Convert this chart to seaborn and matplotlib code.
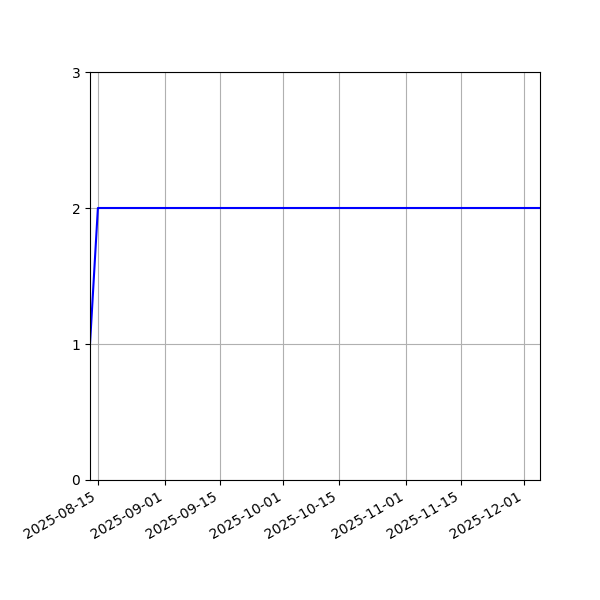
import matplotlib
matplotlib.use("Agg")
import matplotlib.pyplot as plt
import matplotlib.dates as mdates
import pandas as pd
import seaborn as sns

dates = pd.to_datetime(["2025-08-13", "2025-08-15", "2025-12-05"])
counts = [1, 2, 2]

df = pd.DataFrame({"date": dates, "count": counts})

fig, ax = plt.subplots(figsize=(6, 6), dpi=100)
sns.lineplot(data=df, x="date", y="count", color="blue", linewidth=1.5, ax=ax)

ax.set_xlim(dates.min(), dates.max())
ax.set_ylim(0, 3)
ax.set_yticks([0, 1, 2, 3])
ax.xaxis.set_major_locator(mdates.DayLocator(bymonthday=[1, 15]))
ax.xaxis.set_major_formatter(mdates.DateFormatter("%Y-%m-%d"))
ax.set_xlabel("")
ax.set_ylabel("")
ax.grid(True)

fig.autofmt_xdate()
fig.subplots_adjust(left=0.15, right=0.9, top=0.88, bottom=0.2)
fig.savefig("out.png", dpi=100)
